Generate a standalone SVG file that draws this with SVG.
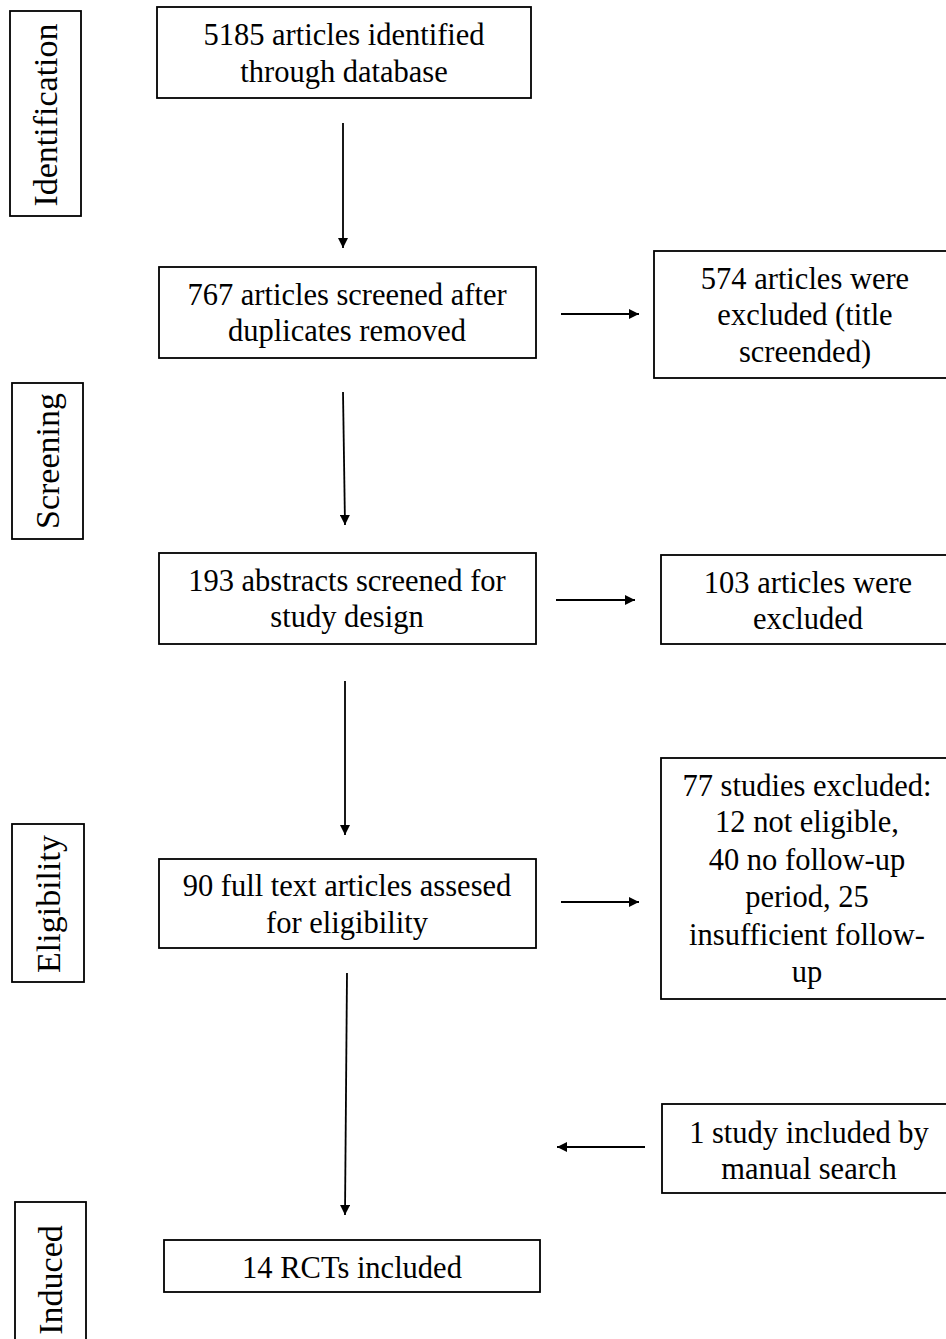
<svg xmlns="http://www.w3.org/2000/svg" width="946" height="1339" viewBox="0 0 946 1339">
<defs>
<marker id="ah" viewBox="0 0 10 10" refX="10" refY="5" markerWidth="12" markerHeight="10" markerUnits="userSpaceOnUse" orient="auto">
<path d="M0,0 L10,5 L0,10 z" fill="#000"/>
</marker>
<style>
rect{fill:#fff;stroke:#000;stroke-width:1.8}
text{font-family:"Liberation Serif","Times New Roman",serif;font-size:30.5px;fill:#000;text-anchor:middle}
.v{font-size:34px}
.c line{stroke:#000;stroke-width:1.8;marker-end:url(#ah)}
</style>
</defs>
<rect width="946" height="1339" style="fill:#fff;stroke:none"/>
<g id="stage-identification"><rect x="10" y="11" width="71" height="205"/><text class="v" transform="translate(57,115) rotate(-90)">Identification</text></g>
<g id="stage-screening"><rect x="12" y="383" width="71" height="156"/><text class="v" transform="translate(59,461) rotate(-90)">Screening</text></g>
<g id="stage-eligibility"><rect x="12" y="824" width="72" height="158"/><text class="v" transform="translate(60,904) rotate(-90)">Eligibility</text></g>
<g id="stage-included"><rect x="15" y="1202" width="71" height="145"/><text class="v" transform="translate(62,1280) rotate(-90)">Induced</text></g>
<g id="n1"><rect x="157" y="7" width="374" height="91"/><text x="344" y="45">5185 articles identified</text><text x="344" y="82">through database</text></g>
<g id="n2"><rect x="159" y="267" width="377" height="91"/><text x="347" y="305">767 articles screened after</text><text x="347" y="341">duplicates removed</text></g>
<g id="n3"><rect x="654" y="251" width="300" height="127"/><text x="805" y="289">574 articles were</text><text x="805" y="325">excluded (title</text><text x="805" y="362">screended)</text></g>
<g id="n4"><rect x="159" y="553" width="377" height="91"/><text x="347" y="591">193 abstracts screened for</text><text x="347" y="627">study design</text></g>
<g id="n5"><rect x="661" y="555" width="293" height="89"/><text x="808" y="593">103 articles were</text><text x="808" y="629">excluded</text></g>
<g id="n6"><rect x="159" y="859" width="377" height="89"/><text x="347" y="896">90 full text articles assesed</text><text x="347" y="933">for eligibility</text></g>
<g id="n7"><rect x="661" y="758" width="293" height="241"/><text x="807" y="796">77 studies excluded:</text><text x="807" y="832">12 not eligible,</text><text x="807" y="870">40 no follow-up</text><text x="807" y="907">period, 25</text><text x="807" y="945">insufficient follow-</text><text x="807" y="982">up</text></g>
<g id="n8"><rect x="662" y="1104" width="292" height="89"/><text x="809" y="1143">1 study included by</text><text x="809" y="1179">manual search</text></g>
<g id="n9"><rect x="164" y="1240" width="376" height="52"/><text x="352" y="1278">14 RCTs included</text></g>
<g class="c" id="connectors">
<line x1="343" y1="123" x2="343" y2="248"/>
<line x1="343" y1="392" x2="345" y2="525"/>
<line x1="345" y1="681" x2="345" y2="835"/>
<line x1="347" y1="973" x2="345" y2="1215"/>
<line x1="561" y1="314" x2="639" y2="314"/>
<line x1="556" y1="600" x2="635" y2="600"/>
<line x1="561" y1="902" x2="639" y2="902"/>
<line x1="645" y1="1147" x2="557" y2="1147"/>
</g>
</svg>
